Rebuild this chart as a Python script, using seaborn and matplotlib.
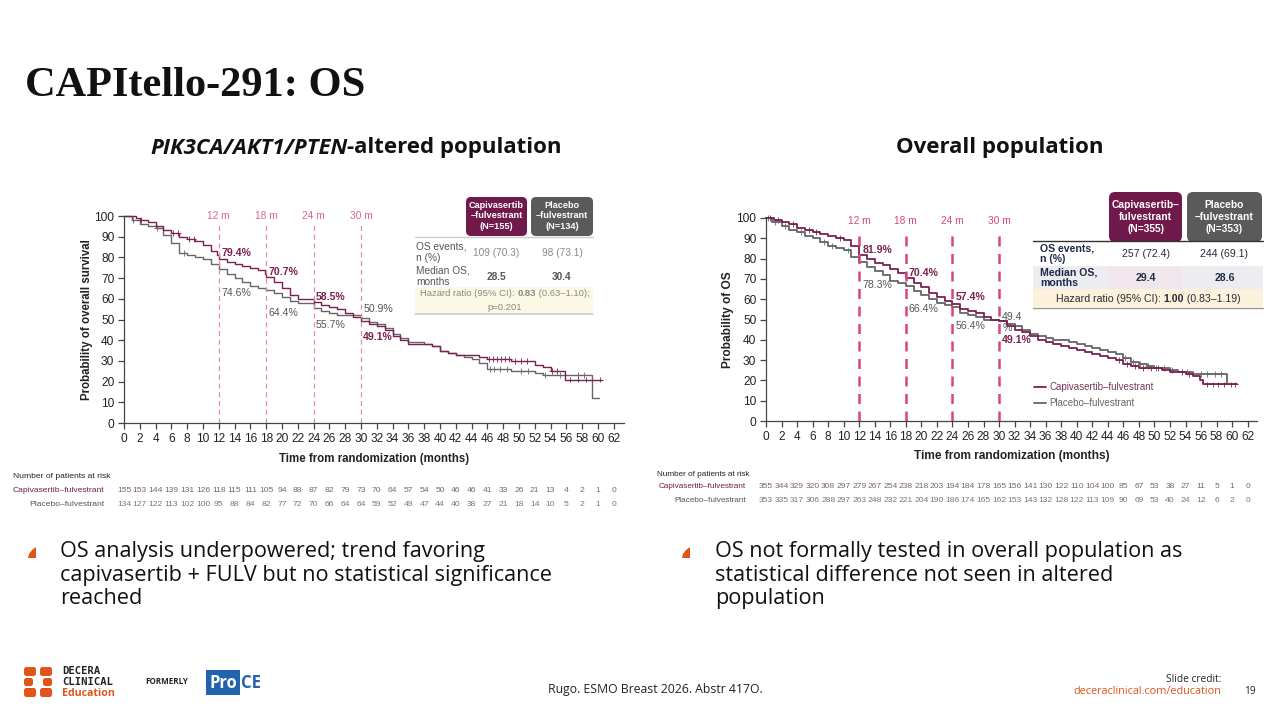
import numpy as np
import pandas as pd
import seaborn as sns
import matplotlib.pyplot as plt
from matplotlib.patches import Rectangle, FancyBboxPatch, Polygon
from matplotlib.transforms import Affine2D, blended_transform_factory
from matplotlib.lines import Line2D

sns.set_theme(style="ticks")
plt.rcParams["font.family"] = ["Liberation Sans", "DejaVu Sans"]

CAPI = "Capivasertib–fulvestrant"
PBO = "Placebo–fulvestrant"
PURPLE = "#7a2150"
GREY = "#666666"
PINK = "#d9457a"
ORANGE = "#e0541c"
SLIDE_FONT = ["Open Sans", "DejaVu Sans"]

# ---- altered population (left) ----
alt_t_capi = [0, 1.5, 2, 3, 4, 5, 6, 7, 8, 9, 10, 11, 11.8, 12, 13, 14, 15, 16, 17, 17.8, 18, 19, 20, 21,
              22, 24, 25, 26, 27, 28, 29, 30, 31, 32, 33, 34, 35, 36, 39, 40, 41, 42, 45, 46, 49, 52, 53,
              54, 55.8, 60.5]
alt_s_capi = [100, 99, 98, 97, 95, 93, 92, 90, 89, 88, 86, 83, 81, 79.4, 78, 77, 76, 75, 74, 72, 70.7, 68,
              65, 62, 60, 58.5, 57, 56, 55, 53, 51, 49.1, 48, 47, 45, 42, 40, 38, 37, 35, 34, 33, 32, 31,
              30, 28, 27, 25, 21, 21]
alt_t_pbo = [0, 1, 2, 3, 4, 5, 6, 7, 8, 9, 10, 11, 12, 13, 14, 15, 16, 17, 18, 19, 20, 21, 22, 24, 25, 26,
             27, 30, 31, 32, 33, 34, 35, 36, 38, 39, 40, 41, 42, 43, 44, 45, 46, 49, 52, 53, 59.3, 60.1]
alt_s_pbo = [100, 98, 96, 95, 94, 91, 87, 82, 81, 80, 79, 77, 74.6, 72, 70, 68, 66, 65, 64.4, 63, 61, 59,
             58, 55.7, 54, 53, 52, 50.9, 49, 48, 46, 43, 41, 39, 38, 37, 35, 34, 33, 32, 31, 29, 26, 25,
             24, 23, 12, 12]
alt_cens_capi = [2.2, 6.2, 6.8, 8.2, 8.8, 46.2, 46.7, 47.2, 47.7, 48.2, 48.7, 49.5, 50.2, 51, 54.2, 54.8,
                 56.5, 57.5, 58.5, 60.3]
alt_cens_pbo = [1.2, 4.2, 7.6, 46.3, 46.8, 47.6, 48.5, 50.2, 51.2, 53.3, 55.2, 57.5, 58.2]
alt_pct_capi = ["79.4%", "70.7%", "58.5%", "49.1%"]
alt_pct_pbo = ["74.6%", "64.4%", "55.7%", "50.9%"]
alt_risk_capi = [155, 153, 144, 139, 131, 126, 118, 115, 111, 105, 94, 88, 87, 82, 79, 73, 70, 64, 57, 54,
                 50, 46, 46, 41, 33, 26, 21, 13, 4, 2, 1, 0]
alt_risk_pbo = [134, 127, 122, 113, 102, 100, 95, 88, 84, 82, 77, 72, 70, 66, 64, 64, 59, 52, 49, 47, 44,
                40, 38, 27, 21, 18, 14, 10, 5, 2, 1, 0]
alt_n = [155, 134]
alt_events = ["109 (70.3)", "98 (73.1)"]
alt_median = ["28.5", "30.4"]
alt_hr = ["0.83", "(0.63–1.10);", "p=0.201"]

# ---- overall population (right) ----
all_t_capi = [0, 1, 2, 3, 4, 5, 6, 7, 8, 9, 10, 11, 12, 13, 14, 15, 16, 17, 18, 19, 20, 21, 22, 23, 24,
              25, 26, 27, 28, 29, 30, 31, 32, 33, 34, 35, 36, 37, 38, 39, 40, 41, 42, 43, 44, 45, 46, 47,
              48, 51, 52, 54, 55, 55.8, 56.3, 60.6]
all_s_capi = [100, 99, 98, 97, 95, 94, 93, 92, 91, 90, 89, 86, 81.9, 80, 78, 77, 75, 73, 70.4, 68, 66, 63,
              61, 59, 57.4, 55, 54, 53, 51, 50, 49.1, 47, 45, 44, 42, 40, 39, 38, 37, 36, 35, 34, 33, 32,
              31, 30, 28, 27, 26, 25, 24, 23, 22, 20, 18, 18]
all_t_pbo = [0, 0.8, 2, 3, 4, 5, 6, 7, 8, 9, 10, 11, 12, 13, 14, 15, 16, 17, 18, 19, 20, 21, 22, 23, 24,
             25, 26, 27, 28, 30, 31, 32, 33, 34, 35, 36, 37, 39, 40, 41, 42, 43, 44, 45, 46, 47, 48, 49,
             50, 52, 53, 55, 59.4, 59.5]
all_s_pbo = [100, 98, 96, 94, 93, 91, 90, 88, 86, 85, 84, 81, 78.3, 76, 74, 72, 69, 68, 66.4, 64, 62, 60,
             58, 57, 56.4, 53, 52, 51, 50, 49.4, 48, 47, 45, 43, 42, 41, 40, 39, 38, 37, 36, 35, 34, 33,
             31, 29, 28, 27, 26, 25, 24, 23, 18, 18]
all_cens_capi = [0.5, 1.5, 3.5, 5.5, 6.5, 9.5, 45.5, 46.5, 47.5, 48.5, 49.5, 50.5, 53.5, 54.5, 56.8, 57.5,
                 58.2, 59, 59.8, 60.4]
all_cens_pbo = [0.3, 1.2, 2.5, 4.5, 7.5, 8.5, 10.5, 46.2, 47.2, 48.2, 49.2, 50.2, 51.2, 52.2, 54.2, 56,
                56.8, 57.8, 58.6]
all_pct_capi = ["81.9%", "70.4%", "57.4%", "49.1%"]
all_pct_pbo = ["78.3%", "66.4%", "56.4%", "49.4\n%"]
all_risk_capi = [355, 344, 329, 320, 308, 297, 279, 267, 254, 238, 218, 203, 194, 184, 178, 165, 156, 141,
                 130, 122, 110, 104, 100, 85, 67, 53, 38, 27, 11, 5, 1, 0]
all_risk_pbo = [353, 335, 317, 306, 288, 297, 263, 248, 232, 221, 204, 190, 186, 174, 165, 162, 153, 143,
                132, 128, 122, 113, 109, 90, 69, 53, 40, 24, 12, 6, 2, 0]
all_n = [355, 353]
all_events = ["257 (72.4)", "244 (69.1)"]
all_median = ["29.4", "28.6"]
all_hr = ["1.00", "(0.83–1.19)"]

landmarks = [12, 18, 24, 30]
risk_months = list(range(0, 63, 2))

fig = plt.figure(figsize=(12.8, 7.2), dpi=100)
fig.patch.set_facecolor("white")
PX = Affine2D().scale(1 / 1280, -1 / 720).translate(0, 1) + fig.transFigure
renderer = fig.canvas.get_renderer()


def px_axes(left, top, right, bottom):
    return fig.add_axes([left / 1280, 1 - bottom / 720, (right - left) / 1280, (bottom - top) / 720])


def rich(x, y, parts, ha="center", **kw):
    # row of text pieces with different weights, in pixel coords
    arts, widths = [], []
    for s, props in parts:
        t = fig.text(0, 0, s, transform=PX, va="center", ha="left", **kw, **props)
        arts.append(t)
        widths.append(t.get_window_extent(renderer).width)
    cur = x - sum(widths) / 2 if ha == "center" else x
    for t, w in zip(arts, widths):
        t.set_position((cur, y))
        cur += w


def step_val(times, surv, c):
    return surv[max(np.searchsorted(times, c, side="right") - 1, 0)]


def draw_km(ax, tc, sc, tp, sp, cc, cp, xmax, lw):
    df = pd.concat([
        pd.DataFrame({"t": tp, "s": sp, "arm": PBO}),
        pd.DataFrame({"t": tc, "s": sc, "arm": CAPI}),
    ])
    sns.lineplot(data=df, x="t", y="s", hue="arm", hue_order=[PBO, CAPI],
                 palette={CAPI: PURPLE, PBO: GREY}, drawstyle="steps-post", estimator=None,
                 sort=False, legend=False, linewidth=lw, ax=ax, clip_on=False)
    cen = pd.concat([
        pd.DataFrame({"t": cp, "s": [step_val(tp, sp, c) for c in cp], "arm": PBO}),
        pd.DataFrame({"t": cc, "s": [step_val(tc, sc, c) for c in cc], "arm": CAPI}),
    ])
    sns.scatterplot(data=cen, x="t", y="s", hue="arm", palette={CAPI: PURPLE, PBO: GREY},
                    marker="+", s=18, linewidth=0.6, legend=False, ax=ax, clip_on=False)
    ax.set_xlim(0, xmax)
    ax.set_ylim(0, 100)
    ax.set_xticks(risk_months)
    ax.set_yticks(range(0, 101, 10))
    ax.tick_params(labelsize=8.6, length=4, width=0.9, colors="#444", labelcolor="#222", pad=3)
    for side in ["top", "right"]:
        ax.spines[side].set_visible(False)
    for side in ["left", "bottom"]:
        ax.spines[side].set_color("#444")
        ax.spines[side].set_linewidth(0.9)
    ax.set_facecolor("none")


def risk_table(ax, y_head, y1, y2, x_head, x_lab, rc, rp, fs):
    tr = blended_transform_factory(ax.transData, PX)
    fig.text(x_head, y_head, "Number of patients at risk", transform=PX, fontsize=fs,
             color="#222", va="center")
    fig.text(x_lab, y1, CAPI, transform=PX, fontsize=fs, color="#6e1f4c", ha="right", va="center")
    fig.text(x_lab, y2, PBO, transform=PX, fontsize=fs, color="#555", ha="right", va="center")
    for m, a, b in zip(risk_months, rc, rp):
        fig.text(m, y1, str(a), transform=tr, fontsize=6.1, color="#7a6470", ha="center", va="center")
        fig.text(m, y2, str(b), transform=tr, fontsize=6.1, color="#777", ha="center", va="center")


# ---------------- left chart ----------------
ax1 = px_axes(124, 216, 624, 423)
draw_km(ax1, alt_t_capi, alt_s_capi, alt_t_pbo, alt_s_pbo, alt_cens_capi, alt_cens_pbo, 63.3, 1.0)
ax1.set_xlabel("Time from randomization (months)", fontsize=8.3, fontweight="bold", color="#222",
               labelpad=6)
ax1.set_ylabel("Probability of overall survival", fontsize=8.3, fontweight="bold", color="#222",
               labelpad=1)
ax1.vlines(landmarks, 0, 96, colors="#e58aa8", linestyles=(0, (4, 3)), linewidth=0.9)
for m in landmarks:
    ax1.text(m, 100, f"{m} m", color="#e0608a", fontsize=7.3, ha="center", va="center")
for m, txt, yy in zip(landmarks, alt_pct_capi, [82, 73, 61, 41.5]):
    ax1.text(m + 0.3, yy, txt, color=PURPLE, fontsize=7.6, fontweight="bold", va="center")
for m, txt, yy in zip(landmarks, alt_pct_pbo, [63, 53, 47.5, 55]):
    ax1.text(m + 0.3, yy, txt, color="#555", fontsize=7.6, va="center")

# left summary table
fig.add_artist(FancyBboxPatch((466, 197), 61, 39, boxstyle="round,pad=0,rounding_size=5",
                              transform=PX, fc="#701a4b", ec="none"))
fig.add_artist(FancyBboxPatch((531, 197), 62, 39, boxstyle="round,pad=0,rounding_size=5",
                              transform=PX, fc="#5a5a5a", ec="none"))
fig.text(496.5, 216, f"Capivasertib\n–fulvestrant\n(N={alt_n[0]})", transform=PX, color="white",
         fontsize=6.6, fontweight="bold", ha="center", va="center", linespacing=1.2)
fig.text(562, 216, f"Placebo\n–fulvestrant\n(N={alt_n[1]})", transform=PX, color="white",
         fontsize=6.6, fontweight="bold", ha="center", va="center", linespacing=1.2)
fig.add_artist(Rectangle((415, 287), 178, 26, transform=PX, fc="#fbf8e4", ec="none"))
fig.add_artist(Line2D([415, 593], [237, 237], transform=PX, color="#ccc", lw=1))
fig.add_artist(Line2D([415, 593], [314, 314], transform=PX, color="#ccc", lw=1.2))
fig.text(416, 252, "OS events,\nn (%)", transform=PX, fontsize=7.3, color="#555", va="center",
         linespacing=1.2)
fig.text(416, 276, "Median OS,\nmonths", transform=PX, fontsize=7.3, color="#555", va="center",
         linespacing=1.2)
for x, ev, md in zip([496.5, 562], alt_events, alt_median):
    fig.text(x, 253, ev, transform=PX, fontsize=7.3, color="#888", ha="center", va="center")
    fig.text(x, 277, md, transform=PX, fontsize=7.3, color="#555", fontweight="bold",
             ha="center", va="center")
rich(505, 294, [("Hazard ratio (95% CI): ", {}), (alt_hr[0], {"fontweight": "bold"}),
                (" " + alt_hr[1], {})], fontsize=6.8, color="#888")
fig.text(505, 307, alt_hr[2], transform=PX, fontsize=6.8, color="#888", ha="center", va="center")

risk_table(ax1, 477, 490, 504, 13, 104, alt_risk_capi, alt_risk_pbo, 6.1)

# ---------------- right chart ----------------
ax2 = px_axes(766, 218, 1257, 421)
draw_km(ax2, all_t_capi, all_s_capi, all_t_pbo, all_s_pbo, all_cens_capi, all_cens_pbo, 63.2, 1.3)
ax2.set_xlabel("Time from randomization (months)", fontsize=8.6, fontweight="bold", color="#222",
               labelpad=5)
ax2.set_ylabel("Probability of OS", fontsize=8.6, fontweight="bold", color="#222", labelpad=2)
ax2.vlines(landmarks, 0, 93.5, colors=PINK, linestyles=(0, (4, 3)), linewidth=1.8)
for m in landmarks:
    ax2.text(m, 98.5, f"{m} m", color=PINK, fontsize=7.3, ha="center", va="center")
for m, txt, yy in zip(landmarks, all_pct_capi, [84, 73, 61, 40]):
    ax2.text(m + 0.4, yy, txt, color=PURPLE, fontsize=7.6, fontweight="bold", va="center")
for m, txt, yy in zip(landmarks, all_pct_pbo, [67, 55, 47, 48.5]):
    ax2.text(m + 0.4, yy, txt, color="#555", fontsize=7.6, va="center", linespacing=1.1)
leg = ax2.legend(handles=[Line2D([], [], color=PURPLE, lw=1.3), Line2D([], [], color=GREY, lw=1.3)],
                 labels=[CAPI, PBO], loc="lower left", bbox_to_anchor=(0.528, 0.02), frameon=False,
                 fontsize=7.0, handlelength=1.2, handletextpad=0.4, labelspacing=0.6)
leg.get_texts()[0].set_color("#7a3a5c")
leg.get_texts()[1].set_color("#666")

# right summary table
fig.add_artist(FancyBboxPatch((1109, 192), 73, 50, boxstyle="round,pad=0,rounding_size=6",
                              transform=PX, fc="#701a4b", ec="none"))
fig.add_artist(FancyBboxPatch((1187, 192), 75, 50, boxstyle="round,pad=0,rounding_size=6",
                              transform=PX, fc="#5a5a5a", ec="none"))
fig.text(1145.5, 217, f"Capivasertib–\nfulvestrant\n(N={all_n[0]})", transform=PX, color="white",
         fontsize=7.4, fontweight="bold", ha="center", va="center", linespacing=1.2)
fig.text(1224.5, 217, f"Placebo\n–fulvestrant\n(N={all_n[1]})", transform=PX, color="white",
         fontsize=7.4, fontweight="bold", ha="center", va="center", linespacing=1.2)
fig.add_artist(Rectangle((1033, 241), 230, 25, transform=PX, fc="white", ec="none"))
fig.add_artist(Rectangle((1033, 266), 230, 23, transform=PX, fc="#ececf1", ec="none"))
fig.add_artist(Rectangle((1109, 266), 73, 23, transform=PX, fc="#f1e6ec", ec="none"))
fig.add_artist(Rectangle((1033, 289), 230, 18, transform=PX, fc="#fcf2dc", ec="none"))
fig.add_artist(Line2D([1033, 1263], [241, 241], transform=PX, color="#333", lw=1))
fig.add_artist(Line2D([1033, 1263], [308, 308], transform=PX, color="#999", lw=1))
fig.text(1040, 254, "OS events,\nn (%)", transform=PX, fontsize=7.6, color="#1c2a48",
         fontweight="bold", va="center", linespacing=1.1)
fig.text(1040, 278, "Median OS,\nmonths", transform=PX, fontsize=7.6, color="#1c2a48",
         fontweight="bold", va="center", linespacing=1.1)
for x, ev, md in zip([1145.5, 1224.5], all_events, all_median):
    fig.text(x, 254, ev, transform=PX, fontsize=7.6, color="#2a2a3a", ha="center", va="center")
    fig.text(x, 278, md, transform=PX, fontsize=7.6, color="#1c2a48", fontweight="bold",
             ha="center", va="center")
rich(1148, 298.5, [("Hazard ratio (95% CI): ", {}), (all_hr[0], {"fontweight": "bold"}),
                   (" " + all_hr[1], {})], fontsize=7.6, color="#2a2a3a")

risk_table(ax2, 474, 487, 501, 657, 746, all_risk_capi, all_risk_pbo, 5.9)

# ---------------- slide text ----------------
fig.text(25, 86, "CAPItello-291: OS", transform=PX, family=["Liberation Serif", "DejaVu Serif"],
         fontsize=30.5, fontweight="bold", color="#111", va="center")
rich(356, 148, [("PIK3CA/AKT1/PTEN", {"style": "italic"}), ("-altered population", {})],
     family=SLIDE_FONT, fontsize=16, fontweight="bold", color="#111")
fig.text(1000, 148, "Overall population", transform=PX, family=SLIDE_FONT, fontsize=16,
         fontweight="bold", color="#111", ha="center", va="center")

bullets = [
    (28, 60, "OS analysis underpowered; trend favoring\ncapivasertib + FULV but no statistical significance\nreached"),
    (682, 715, "OS not formally tested in overall population as\nstatistical difference not seen in altered\npopulation"),
]
for bx, tx, txt in bullets:
    fig.add_artist(Polygon([(bx, 558), (bx + 8, 558), (bx + 8, 547), (bx + 4, 550), (bx + 1, 554)],
                           closed=True, transform=PX, fc=ORANGE, ec="none"))
    fig.text(tx, 541, txt, transform=PX, family=SLIDE_FONT, fontsize=15.6, color="#111",
             va="top", linespacing=1.16)

# footer
for (lx, ly, w, h) in [(24, 667, 12, 9), (40, 667, 12, 9), (24, 678, 9, 8), (24, 688, 12, 9),
                       (40, 688, 12, 9), (43, 678, 9, 8)]:
    fig.add_artist(FancyBboxPatch((lx, ly), w, h, boxstyle="round,pad=0,rounding_size=2.5",
                                  transform=PX, fc=ORANGE, ec="none"))
fig.text(62, 671, "DECERA", transform=PX, family=["DejaVu Sans Mono"], fontsize=7.6,
         fontweight="bold", color="#222", va="center")
fig.text(62, 682, "CLINICAL", transform=PX, family=["DejaVu Sans Mono"], fontsize=7.6,
         fontweight="bold", color="#222", va="center")
fig.text(62, 693, "Education", transform=PX, family=SLIDE_FONT, fontsize=7.6, fontweight="bold",
         color=ORANGE, va="center")
fig.text(145, 682, "FORMERLY", transform=PX, family=SLIDE_FONT, fontsize=5.8, fontweight="bold",
         color="#222", va="center")
fig.add_artist(Rectangle((206, 670), 34, 25, transform=PX, fc="#2163ad", ec="none"))
fig.text(223, 682.5, "Pro", transform=PX, family=SLIDE_FONT, fontsize=12, fontweight="bold",
         color="white", ha="center", va="center")
fig.text(241, 682.5, "CE", transform=PX, family=SLIDE_FONT, fontsize=12, fontweight="bold",
         color="#2163ad", va="center")
fig.text(655, 689, "Rugo. ESMO Breast 2026. Abstr 417O.", transform=PX, family=SLIDE_FONT,
         fontsize=8.8, color="#222", ha="center", va="center")
fig.text(1221, 679, "Slide credit:", transform=PX, family=SLIDE_FONT, fontsize=7.3, color="#222",
         ha="right", va="center")
fig.text(1221, 692, "deceraclinical.com/education", transform=PX, family=SLIDE_FONT, fontsize=7.8,
         color=ORANGE, ha="right", va="center")
fig.text(1256, 692, "19", transform=PX, family=SLIDE_FONT, fontsize=7.3, color="#222",
         ha="right", va="center")

fig.savefig("out.png", dpi=100)
